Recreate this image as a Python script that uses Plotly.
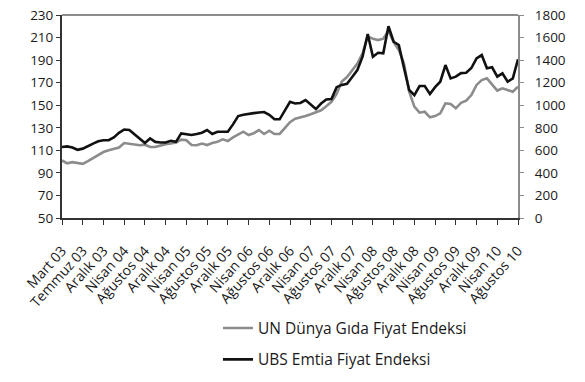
import plotly.graph_objects as go

tick_labels = ["Mart 03", "Temmuz 03", "Aralık 03", "Nisan 04", "Ağustos 04", "Aralık 04",
               "Nisan 05", "Ağustos 05", "Aralık 05", "Nisan 06", "Ağustos 06", "Aralık 06",
               "Nisan 07", "Ağustos 07", "Aralık 07", "Nisan 08", "Ağustos 08", "Aralık 08",
               "Nisan 09", "Ağustos 09", "Aralık 09", "Nisan 10", "Ağustos 10"]

un_food = [101, 98.5, 99.5, 99, 98, 100.5, 103, 106, 108.5, 110,
           111.5, 112.5, 116.5, 116, 115, 114.5, 115, 113, 113, 114.5,
           115.5, 116, 117, 119.5, 119, 114.7, 114.5, 116, 114.7, 116.5,
           117.5, 119.8, 118.3, 121.5, 124, 126.5, 123.6, 125.1, 128, 124.5,
           127.4, 124.5, 124.5, 130, 135, 138, 139, 140.4, 142, 143.5,
           145.5, 149, 153, 160, 171, 175, 181, 187, 196, 211,
           209, 207.8, 209, 216, 206, 199, 187, 162, 148.7, 143.4,
           144.2, 139.3, 140.4, 142.8, 151.7, 151.1, 147.3, 152.2, 154, 159,
           168, 172.3, 173.8, 168.8, 163, 165, 163.5, 162, 166.4]

ubs_commodity = [630, 635, 625, 605, 615, 640, 660, 680, 690, 690,
                 715, 755, 785, 780, 740, 700, 665, 705, 675, 670,
                 670, 685, 675, 750, 745, 736, 745, 756, 780, 745,
                 765, 765, 765, 830, 904, 915, 925, 930, 935, 940,
                 915, 875, 875, 950, 1030, 1015, 1020, 1046, 1002, 966,
                 1015, 1050, 1055, 1160, 1180, 1190, 1250, 1312, 1430, 1631,
                 1430, 1465, 1460, 1700, 1563, 1534, 1330, 1135, 1090, 1170,
                 1170, 1100, 1160, 1208, 1356, 1238, 1253, 1285, 1288, 1330,
                 1416, 1445, 1327, 1336, 1253, 1283, 1208, 1238, 1407]

x = list(range(len(un_food)))
tick_positions = [i * 4 for i in range(len(tick_labels))]

FONT = "Open Sans"
fig = go.Figure()
fig.add_trace(go.Scatter(x=x, y=un_food, mode="lines", name="UN Dünya Gıda Fiyat Endeksi",
                         line=dict(color="#8c8c8c", width=2.6), yaxis="y", legend="legend"))
fig.add_trace(go.Scatter(x=x, y=ubs_commodity, mode="lines", name="UBS Emtia Fiyat Endeksi",
                         line=dict(color="#111111", width=2.6), yaxis="y2", legend="legend2"))

fig.update_layout(
    width=585, height=382,
    margin=dict(l=62, r=67, t=15, b=164, autoexpand=False),
    paper_bgcolor="white", plot_bgcolor="white",
    font=dict(family=FONT, color="#1a1a1a", size=13),
    xaxis=dict(range=[0, 88], tickmode="array", tickvals=tick_positions, ticktext=tick_labels,
               tickangle=-48, showgrid=False, zeroline=False, showline=True, automargin=False,
               linecolor="#333333", linewidth=2, ticks="outside", ticklen=5,
               tickcolor="#333333", tickfont=dict(size=14), ticklabelstandoff=12),
    yaxis=dict(range=[50, 230], tick0=50, dtick=20, showgrid=False, zeroline=False, showline=True,
               automargin=False,
               linecolor="#333333", linewidth=2, ticks="outside", ticklen=4,
               tickcolor="#333333", tickfont=dict(size=13.5)),
    yaxis2=dict(range=[0, 1800], tick0=0, dtick=200, overlaying="y", side="right", showgrid=False,
                zeroline=False, showline=True, linecolor="#8c8c8c", linewidth=2, automargin=False,
                ticks="outside", ticklen=4, tickcolor="#8c8c8c", tickfont=dict(size=13.5),
                ticklabelstandoff=8),
    legend=dict(x=0.342, y=-0.46, xanchor="left", yanchor="top", font=dict(size=15.5),
                bgcolor="rgba(0,0,0,0)"),
    legend2=dict(x=0.342, y=-0.615, xanchor="left", yanchor="top", font=dict(size=15.5),
                 bgcolor="rgba(0,0,0,0)"),
    showlegend=True,
)
fig.add_shape(type="line", xref="paper", yref="paper", x0=0, x1=1, y0=1, y1=1,
              line=dict(color="#8c8c8c", width=2))

fig.write_html("out.html")
